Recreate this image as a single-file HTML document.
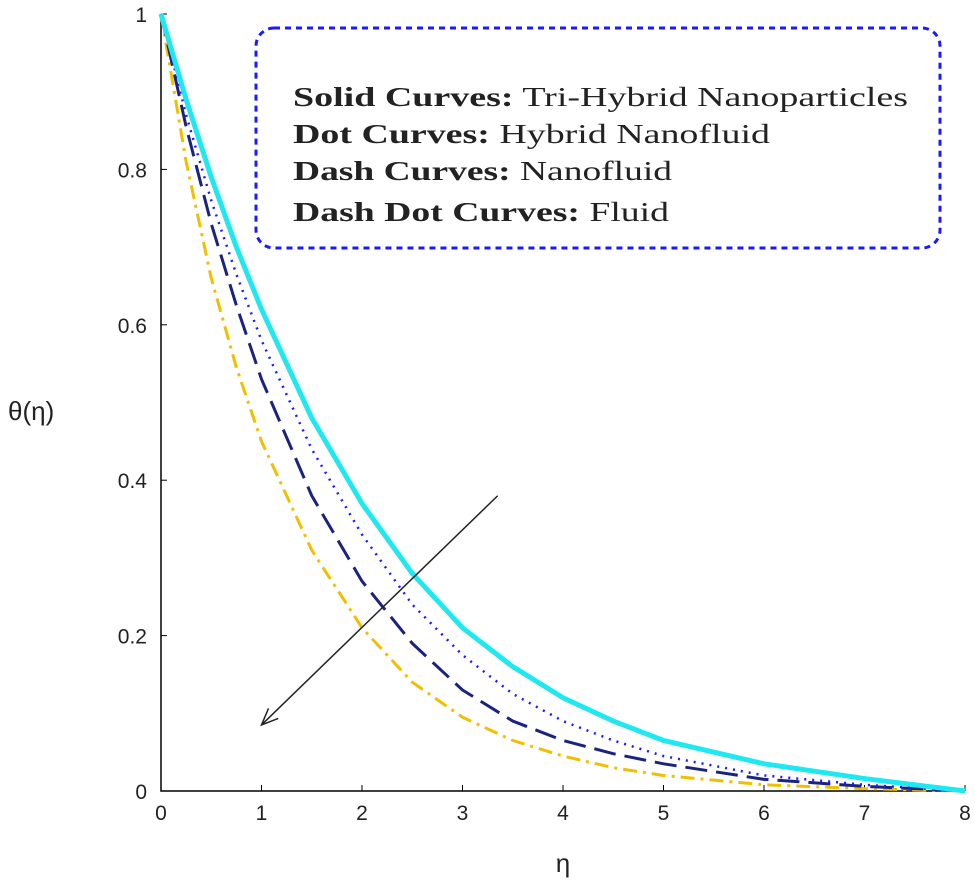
<!DOCTYPE html>
<html><head><meta charset="utf-8"><style>
html,body{margin:0;padding:0;background:#fff;width:975px;height:886px;overflow:hidden}
svg{display:block}
text{font-family:"Liberation Sans",sans-serif}
.lg{font-family:"Liberation Serif",serif;font-size:27px;fill:#222}
</style></head><body>
<svg id="chart" width="975" height="886">
<rect x="256" y="28" width="684" height="220" rx="18" fill="none" stroke="#1a1aff" stroke-width="3" stroke-dasharray="6,5"/>
<text class="lg" x="293" y="106" textLength="615" lengthAdjust="spacingAndGlyphs"><tspan font-weight="bold">Solid Curves:</tspan> Tri-Hybrid Nanoparticles</text>
<text class="lg" x="293" y="143" textLength="477" lengthAdjust="spacingAndGlyphs"><tspan font-weight="bold">Dot Curves:</tspan> Hybrid Nanofluid</text>
<text class="lg" x="293" y="180" textLength="379" lengthAdjust="spacingAndGlyphs"><tspan font-weight="bold">Dash Curves:</tspan> Nanofluid</text>
<text class="lg" x="293" y="221" textLength="376" lengthAdjust="spacingAndGlyphs"><tspan font-weight="bold">Dash Dot Curves:</tspan> Fluid</text>
<text x="8" y="420" font-size="26" fill="#222">θ(η)</text>
<text x="563" y="872" font-size="26" fill="#222" text-anchor="middle">η</text>
<g id="plot"></g>
</svg>
<script>
const xs=[0,0.25,0.5,0.75,1,1.5,2,2.5,3,3.5,4,4.5,5,6,7,8];
const solid=[1,0.89,0.79,0.70,0.62,0.48,0.37,0.28,0.21,0.16,0.12,0.09,0.065,0.035,0.016,0];
const dot=[1,0.87,0.76,0.665,0.58,0.44,0.33,0.24,0.175,0.125,0.09,0.065,0.045,0.02,0.008,0];
const dash=[1,0.855,0.73,0.625,0.53,0.38,0.27,0.19,0.13,0.09,0.065,0.048,0.035,0.015,0.006,0];
const dashdot=[1,0.81,0.66,0.545,0.45,0.31,0.21,0.14,0.095,0.065,0.045,0.03,0.02,0.008,0.003,0];
const xTicks=[0,1,2,3,4,5,6,7,8];
const yTicks=[0,0.2,0.4,0.6,0.8,1];
const yTickLabels=["0","0.2","0.4","0.6","0.8","1"];
const arrowData=[[3.35,0.38],[1.0,0.085]];
const X=v=>161+v*100.5, Y=v=>791-v*777;
const NS="http://www.w3.org/2000/svg";
const g=document.getElementById('plot');
function mk(t,a){const e=document.createElementNS(NS,t);for(const k in a)e.setAttribute(k,a[k]);g.appendChild(e);return e;}
let ax=mk('path',{d:`M${X(0)},${Y(1)}V${Y(0)}H${X(8)}`,fill:'none',stroke:'#000','stroke-width':1.5});


xTicks.forEach(v=>{
 mk('line',{x1:X(v),x2:X(v),y1:Y(0),y2:Y(0)-6,stroke:'#000'});
 const t=mk('text',{x:X(v),y:Y(0)+29,'font-size':21,'text-anchor':'middle',fill:'#222'});t.textContent=v;
 
 
});
yTicks.forEach((v,i)=>{
 mk('line',{x1:X(0),x2:X(0)+6,y1:Y(v),y2:Y(v),stroke:'#000'});
 const t=mk('text',{x:X(0)-14,y:Y(v)+8,'font-size':21,'text-anchor':'end',fill:'#222'});t.textContent=yTickLabels[i];
 
 
});
function line(d,st,w,da,name){
 const p=mk('path',{d:'M'+xs.map((x,i)=>X(x)+','+Y(d[i])).join('L'),fill:'none',stroke:st,'stroke-width':w,'stroke-dasharray':da,'stroke-linejoin':'round'});
 
 
}
line(dashdot,'#f0c000',3,'14,6,3,6','fluid-curve');
line(dash,'#1a237e',3,'22,9','nanofluid-curve');
line(dot,'#1a1aff',2.5,'2,6','hybrid-curve');
line(solid,'#20e8f0',5,'none','trihybrid-curve');
const [a0,a1]=arrowData;
const x1=X(a0[0]),y1=Y(a0[1]),x2=X(a1[0]),y2=Y(a1[1]);
const ar=mk('line',{x1,y1,x2,y2,stroke:'#222','stroke-width':1.5});


const ang=Math.atan2(y2-y1,x2-x1),L=18;
mk('path',{d:`M${x2-L*Math.cos(ang-0.4)},${y2-L*Math.sin(ang-0.4)}L${x2},${y2}L${x2-L*Math.cos(ang+0.4)},${y2-L*Math.sin(ang+0.4)}`,fill:'none',stroke:'#222','stroke-width':1.5});
</script>
</body></html>
